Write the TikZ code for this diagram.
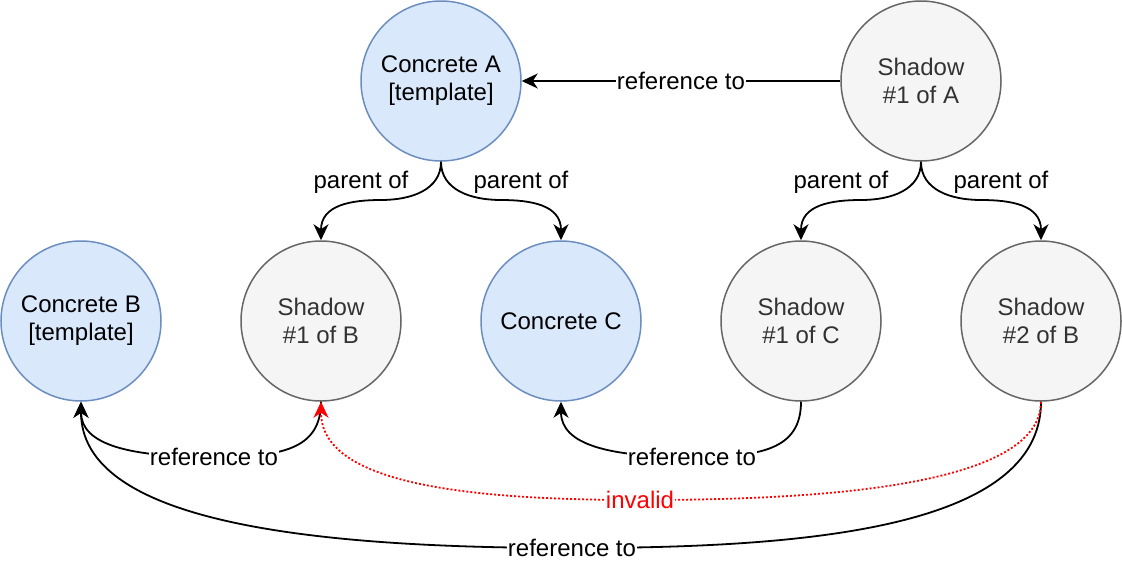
\documentclass[tikz,border=0pt]{standalone}
\usepackage{fontspec}
\setmainfont{Liberation Sans}
\usetikzlibrary{arrows.meta}
\definecolor{cfill}{HTML}{DAE8FC}
\definecolor{cdraw}{HTML}{6C8EBF}
\definecolor{sfill}{HTML}{F5F5F5}
\definecolor{sdraw}{HTML}{666666}
\definecolor{stext}{HTML}{333333}
\definecolor{bad}{HTML}{FF0000}
\begin{document}
\begin{tikzpicture}[x=1pt,y=-1pt,
  every node/.style={font=\fontsize{24}{28}\selectfont},
  concrete/.style={circle,draw=cdraw,fill=cfill,line width=1.5pt,minimum size=160pt,inner sep=0pt,align=center,text=black},
  shadow/.style={circle,draw=sdraw,fill=sfill,line width=1.5pt,minimum size=160pt,inner sep=0pt,align=center,text=stext},
  arr/.style={line width=1.8pt,-{Stealth[length=16pt,width=15pt,inset=5pt]}},
  badarr/.style={line width=1.8pt,draw=bad,dash pattern=on 2pt off 2pt,-{Stealth[length=16pt,width=15pt,inset=5pt,bad]}},
  lbl/.style={fill=white,inner sep=1pt,text=black},
  plbl/.style={inner sep=1pt,text=black}]
\useasboundingbox (0,0) rectangle (1122,560);
\node[concrete] (ca) at (441,81) {Concrete A\\{}[template]};
\node[shadow] (sa) at (921,81) {Shadow\\\#1 of A};
\node[concrete] (cb) at (81,321) {Concrete B\\{}[template]};
\node[shadow] (sb1) at (321,321) {Shadow\\\#1 of B};
\node[concrete] (cc) at (561,321) {Concrete C};
\node[shadow] (sc1) at (801,321) {Shadow\\\#1 of C};
\node[shadow] (sb2) at (1041,321) {Shadow\\\#2 of B};

\draw[arr] (sa.west) -- node[lbl]{reference to} (ca.east);

\draw[arr] (ca.south) .. controls (441,190) and (411,200) .. (381,200) .. controls (351,200) and (321,205) .. (sb1.north);
\draw[arr] (ca.south) .. controls (441,190) and (471,200) .. (501,200) .. controls (531,200) and (561,205) .. (cc.north);
\draw[arr] (sa.south) .. controls (921,190) and (891,200) .. (861,200) .. controls (831,200) and (801,205) .. (sc1.north);
\draw[arr] (sa.south) .. controls (921,190) and (951,200) .. (981,200) .. controls (1011,200) and (1041,205) .. (sb2.north);
\node[plbl] (p1) at (361,182) {parent of};
\node[plbl] (p2) at (521,182) {parent of};
\node[plbl] (p3) at (841,182) {parent of};
\node[plbl] (p4) at (1001,182) {parent of};

\draw[arr] (sb1.south) .. controls (321,450) and (280,457) .. (214,457) node[lbl]{reference to} .. controls (130,457) and (81,445) .. (cb.south);
\draw[arr] (sc1.south) .. controls (801,450) and (760,457) .. (692,457) node[lbl]{reference to} .. controls (610,457) and (561,445) .. (cc.south);
\draw[arr] (sb2.south) .. controls (1041,530) and (800,548) .. (572,548) node[lbl]{reference to} .. controls (300,548) and (81,520) .. (cb.south);
\draw[badarr] (sb2.south) .. controls (1041,490) and (800,500) .. (640,500) node[lbl,text=bad]{invalid} .. controls (450,500) and (321,480) .. (sb1.south);
\end{tikzpicture}
\end{document}
